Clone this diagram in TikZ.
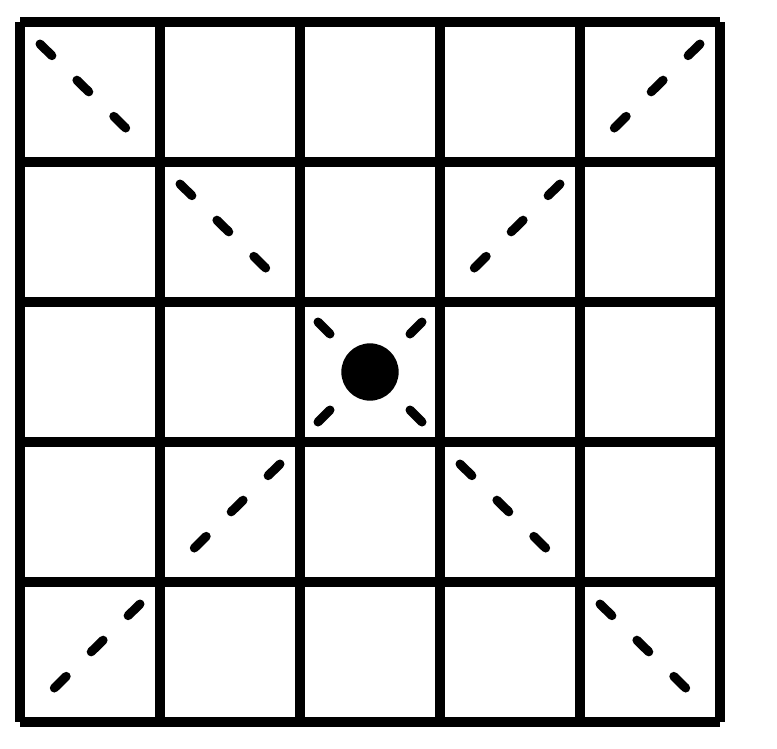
\documentclass[tikz,border=0pt]{standalone}
\usepackage{tikz}
\usetikzlibrary{calc}

\begin{document}
\begin{tikzpicture}[x=0.03cm,y=-0.03cm,
	gridline/.style={line width=0.32cm,line cap=square},
	diagdash/.style={line width=0.27cm,line cap=round,dash pattern=on 0.5cm off 1.05cm}]
	\useasboundingbox (0,0) rectangle (777,748);

	% grid
	\foreach \k in {0,...,5}{
		\draw[gridline] (20+140*\k,22)--(20+140*\k,722);
		\draw[gridline] (20,22+140*\k)--(720,22+140*\k);
	}

	% diagonal cells
	\foreach \i/\j in {0/0,1/1,3/3,4/4}
		\draw[diagdash] (20+140*\i+20,22+140*\j+22)--(20+140*\i+124,22+140*\j+124);
	\foreach \i/\j in {4/0,3/1,1/3,0/4}
		\draw[diagdash] (20+140*\i+120,22+140*\j+22)--(20+140*\i+16,22+140*\j+124);

	% centre
	\fill (370,372) circle (0.86cm);
	\foreach \sx/\sy in {1/1,-1/1,1/-1,-1/-1}
		\draw[line width=0.27cm,line cap=round] (370+52*\sx,372+50*\sy)--(370+40*\sx,372+38*\sy);
\end{tikzpicture}
\end{document}
